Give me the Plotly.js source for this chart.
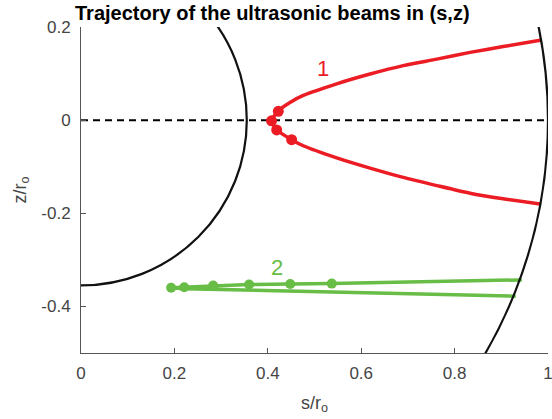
<!DOCTYPE html>
<html>
<head>
<meta charset="utf-8">
<script src="https://cdn.plot.ly/plotly-3.0.1.min.js"></script>
<style>html,body{margin:0;padding:0;background:#fff;}#chart{width:552px;height:419px;}</style>
</head>
<body>
<div id="chart"></div>
<script>
// Boundary circles (radius, centred at origin)
const circleRadii = [0.355, 1.0];

// Symmetry axis (dashed)
const axisS = [0, 1];
const axisZ = [0, 0];

// Beam 1 (red): lower branch end -> turning point -> upper branch end
const beam1S = [0.983, 0.904, 0.833, 0.762, 0.690, 0.619, 0.5475, 0.476, 0.451, 0.419, 0.408, 0.4225, 0.4475, 0.476, 0.5475, 0.619, 0.690, 0.762, 0.833, 0.904, 0.9865];
const beam1Z = [-0.180, -0.169, -0.157, -0.1405, -0.123, -0.103, -0.081, -0.055, -0.042, -0.021, -0.0015, 0.020, 0.038, 0.053, 0.078, 0.099, 0.117, 0.131, 0.1455, 0.158, 0.172];
const beam1MarkS = [0.4225, 0.408, 0.419, 0.451];
const beam1MarkZ = [0.019, -0.0015, -0.021, -0.042];

// Beam 2 (green)
const beam2S = [0.931, 0.683, 0.433, 0.22, 0.193, 0.221, 0.283, 0.360, 0.448, 0.537, 0.944];
const beam2Z = [-0.378, -0.373, -0.367, -0.362, -0.360, -0.359, -0.355, -0.353, -0.352, -0.351, -0.343];
const beam2MarkS = [0.193, 0.221, 0.283, 0.360, 0.448, 0.537];
const beam2MarkZ = [-0.360, -0.359, -0.355, -0.353, -0.352, -0.351];

// Beam labels
const labelText = ['1', '2'];
const labelS = [0.519, 0.419];
const labelZ = [0.1105, -0.3165];

// Axis ticks
const xTickVals = [0, 0.2, 0.4, 0.6, 0.8, 1];
const xTickText = ['0', '0.2', '0.4', '0.6', '0.8', '1'];
const yTickVals = [-0.4, -0.2, 0, 0.2];
const yTickText = ['-0.4', '-0.2', '0', '0.2'];

const red = '#ec1c24';
const green = '#67bd45';
const font = 'Liberation Sans, Arial, Helvetica, sans-serif';
const labelColors = [red, green];

const traces = [
  {x: axisS, y: axisZ, mode: 'lines', line: {color: '#000', width: 2, dash: '7px,5px'}, hoverinfo: 'skip'},
  {x: beam1S, y: beam1Z, mode: 'lines', line: {color: red, width: 3.5, shape: 'spline', smoothing: 0.6}},
  {x: beam1MarkS, y: beam1MarkZ, mode: 'markers', marker: {color: red, size: 11}},
  {x: beam2S, y: beam2Z, mode: 'lines', line: {color: green, width: 3.5}},
  {x: beam2MarkS, y: beam2MarkZ, mode: 'markers', marker: {color: green, size: 10}}
];

const shapes = circleRadii.map(r => ({
  type: 'circle', xref: 'x', yref: 'y',
  x0: -r, y0: -r, x1: r, y1: r,
  line: {color: '#111', width: 2.2}, layer: 'above'
}));

const annotations = labelText.map((t, i) => ({
  x: labelS[i], y: labelZ[i], xref: 'x', yref: 'y', text: t, showarrow: false,
  font: {family: font, size: 22, color: labelColors[i]}
}));
annotations.push({
  xref: 'paper', yref: 'paper', x: 0.411, y: 1, yshift: 1, yanchor: 'bottom', xanchor: 'center',
  text: '<b>Trajectory of the ultrasonic beams in (s,z)</b>', showarrow: false,
  font: {family: font, size: 20, color: '#000'}
});

const axisCommon = {
  showgrid: false, zeroline: false, showline: true, linecolor: '#555', linewidth: 1,
  ticks: 'inside', ticklen: 5, tickcolor: '#555', tickwidth: 1,
  ticklabeloverflow: 'allow',
  tickfont: {family: font, size: 17, color: '#444'}
};

const layout = {
  width: 552, height: 419,
  margin: {l: 81, r: 4, t: 27, b: 66},
  paper_bgcolor: '#fff', plot_bgcolor: '#fff',
  showlegend: false,
  xaxis: Object.assign({}, axisCommon, {
    range: [0, 1], tickmode: 'array', tickvals: xTickVals, ticktext: xTickText,
    ticklabelstandoff: 5,
    title: {text: 's/r<sub>o</sub>', font: {family: font, size: 18, color: '#444'}, standoff: 13}
  }),
  yaxis: Object.assign({}, axisCommon, {
    range: [-0.5, 0.2], tickmode: 'array', tickvals: yTickVals, ticktext: yTickText,
    ticklabelstandoff: 6,
    title: {text: 'z/r<sub>o</sub>', font: {family: font, size: 18, color: '#444'}, standoff: 10}
  }),
  shapes: shapes,
  annotations: annotations
};

Plotly.newPlot('chart', traces, layout, {displayModeBar: false, staticPlot: true});
</script>
</body>
</html>
